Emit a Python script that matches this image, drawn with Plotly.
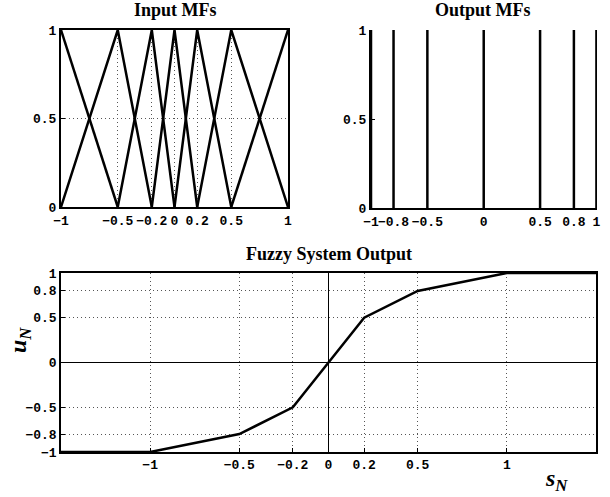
import plotly.graph_objects as go

# ---- data ----
input_centers = [-1, -0.5, -0.2, 0, 0.2, 0.5, 1]
output_singletons = [-1, -0.8, -0.5, 0, 0.5, 0.8, 1]
surface_x = [-1.5, -1, -0.5, -0.2, 0, 0.2, 0.5, 1, 1.5]
surface_y = [-1, -1, -0.8, -0.5, 0, 0.5, 0.8, 1, 1]
tick_vals_in = [-1, -0.5, -0.2, 0, 0.2, 0.5, 1]
tick_text_in = ["\u22121", "\u22120.5", "\u22120.2", "0", "0.2", "0.5", "1"]
tick_vals_out = [-1, -0.8, -0.5, 0, 0.5, 0.8, 1]
tick_text_out = ["\u22121", "\u22120.8", "\u22120.5", "0", "0.5", "0.8", "1"]
tick_vals_mu = [0, 0.5, 1]
tick_text_mu = ["0", "0.5", "1"]

W, H = 610, 497
def xd(a, b): return [a / W, b / W]
def yd(top, bot): return [1 - bot / H, 1 - top / H]

fig = go.Figure()

# input MFs
mx, my = [], []
n = len(input_centers)
for i, c in enumerate(input_centers):
    l = input_centers[i - 1] if i > 0 else c
    r = input_centers[i + 1] if i < n - 1 else c
    xs, ys = [], []
    if i > 0:
        xs += [l]; ys += [0]
    xs += [c]; ys += [1]
    if i < n - 1:
        xs += [r]; ys += [0]
    mx += xs + [None]; my += ys + [None]
fig.add_trace(go.Scatter(x=mx, y=my, mode="lines", line=dict(color="black", width=2.5),
                         xaxis="x", yaxis="y", showlegend=False, hoverinfo="skip"))

# output MFs
ox, oy = [], []
for c in output_singletons:
    ox += [c, c, None]; oy += [0, 1, None]
fig.add_trace(go.Scatter(x=ox, y=oy, mode="lines", line=dict(color="black", width=2.5),
                         xaxis="x2", yaxis="y2", showlegend=False, hoverinfo="skip"))

# surface
fig.add_trace(go.Scatter(x=surface_x, y=surface_y, mode="lines", line=dict(color="black", width=2.5),
                         xaxis="x3", yaxis="y3", showlegend=False, hoverinfo="skip"))

tickfont = dict(family="Liberation Mono", size=13, color="black", weight="bold")
grid = dict(showgrid=True, gridcolor="#555", griddash="1px,3px", gridwidth=1)
common = dict(ticks="inside", ticklen=4, tickcolor="black", tickfont=tickfont, tickangle=0,
              showline=True, linecolor="black", automargin=False)

fig.update_layout(
    width=W, height=H, margin=dict(l=0, r=0, t=0, b=0),
    plot_bgcolor="white", paper_bgcolor="white",
    xaxis=dict(domain=xd(61, 288), range=[-1, 1], tickvals=tick_vals_in, ticktext=tick_text_in,
               mirror=True, linewidth=2, zeroline=False, anchor="y", ticklabelstandoff=0, **grid, **common),
    yaxis=dict(domain=yd(30, 207), range=[0, 1], tickvals=tick_vals_mu, ticktext=tick_text_mu,
               mirror=True, linewidth=2, zeroline=False, anchor="x", **grid, **common),
    xaxis2=dict(domain=xd(371, 597), range=[-1, 1.005], tickvals=tick_vals_out, ticktext=tick_text_out,
                mirror=False, linewidth=2, zeroline=False, showgrid=False, anchor="y2", ticklabelstandoff=0, **common),
    yaxis2=dict(domain=yd(30, 208), range=[0, 1], tickvals=tick_vals_mu, ticktext=tick_text_mu,
                mirror=False, linewidth=2, zeroline=False, showgrid=False, anchor="x2", **common),
    xaxis3=dict(domain=xd(61, 596), range=[-1.5, 1.5], tickvals=tick_vals_in, ticktext=tick_text_in,
                mirror=True, linewidth=1.5, zeroline=True, zerolinecolor="black", zerolinewidth=1,
                anchor="y3", **grid, **common),
    yaxis3=dict(domain=yd(273, 452), range=[-1, 1], tickvals=tick_vals_out, ticktext=tick_text_out,
                mirror=True, linewidth=1.5, zeroline=True, zerolinecolor="black", zerolinewidth=1,
                anchor="x3", **grid, **common),
    annotations=[
        dict(text="<b>Input MFs</b>", x=175 / W, y=1 - 10 / H, xref="paper", yref="paper",
             xanchor="center", yanchor="middle",
             showarrow=False, font=dict(family="Liberation Serif", size=18, color="black")),
        dict(text="<b>Output MFs</b>", x=483 / W, y=1 - 10 / H, xref="paper", yref="paper",
             xanchor="center", yanchor="middle",
             showarrow=False, font=dict(family="Liberation Serif", size=18, color="black")),
        dict(text="<b>Fuzzy System Output</b>", x=329 / W, y=1 - 254 / H, xref="paper", yref="paper",
             xanchor="center", yanchor="middle",
             showarrow=False, font=dict(family="Liberation Serif", size=18, color="black")),
        dict(text="<b><i>u<sub>N</sub></i></b>", x=20 / W, y=1 - 340 / H, xref="paper", yref="paper",
             xanchor="center", yanchor="middle",
             showarrow=False, textangle=-90, font=dict(family="Liberation Serif", size=24, color="black")),
        dict(text="<b><i>s<sub>N</sub></i></b>", x=556 / W, y=1 - 480 / H, xref="paper", yref="paper",
             xanchor="center", yanchor="middle",
             showarrow=False, font=dict(family="Liberation Serif", size=24, color="black")),
    ],
)

fig.write_html("out.html")
